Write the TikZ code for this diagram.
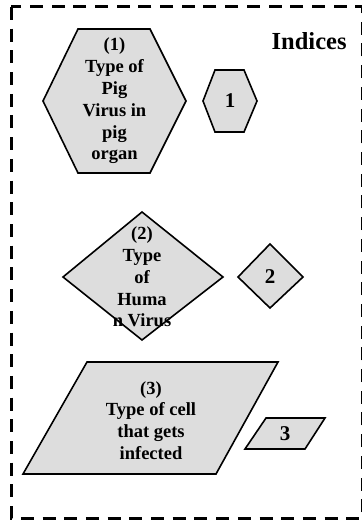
\documentclass[tikz,border=0pt]{standalone}
\usepackage{fontspec}
\setmainfont{Liberation Serif}
\definecolor{shapefill}{RGB}{221,221,221}
\begin{document}
\begin{tikzpicture}[x=1pt,y=-1pt,
  shapeline/.style={draw=black,line width=1.6pt,fill=shapefill,line join=miter},
  lbl/.style={align=center,inner sep=0pt,font=\bfseries\fontsize{18.5}{21.8}\selectfont},
  digit/.style={inner sep=0pt,font=\bfseries\fontsize{21}{24}\selectfont}]
\useasboundingbox (0,0) rectangle (361,521);
% border
\draw[line width=3pt,dash pattern=on 13pt off 8.7pt] (11,7) -- (11,518) -- (362.2,518) -- (362.2,7) -- cycle;
% hexagons
\draw[shapeline] (43,101) -- (78,29) -- (150,29) -- (186,101) -- (150,173) -- (78,173) -- cycle;
\draw[shapeline] (203,101) -- (215,70) -- (244,70) -- (257,101) -- (244,132) -- (215,132) -- cycle;
% diamonds
\draw[shapeline] (63,277) -- (142,212) -- (223,277) -- (142,340) -- cycle;
\draw[shapeline] (238,277) -- (270,244) -- (303,277) -- (270,308) -- cycle;
% parallelograms
\draw[shapeline] (87,362) -- (278,362) -- (216,474) -- (23,474) -- cycle;
\draw[shapeline] (266,418) -- (325,418) -- (305,449) -- (245,449) -- cycle;
% texts
\node[anchor=base west,inner sep=0pt,font=\bfseries\fontsize{24.5}{28}\selectfont] (idx) at (271.5,49.3) {Indices};
\node[lbl] (t1) at (114.5,101) {(1)\\Type of\\Pig\\Virus in\\pig\\organ};
\node[digit] (d1) at (230,101) {1};
\node[lbl] (t2) at (142,277) {(2)\\Type\\of\\Huma\\n Virus};
\node[digit] (d2) at (270,277) {2};
\node[lbl] (t3) at (151,420.5) {(3)\\Type of cell\\that gets\\infected};
\node[digit] (d3) at (285,433.5) {3};
\end{tikzpicture}
\end{document}
